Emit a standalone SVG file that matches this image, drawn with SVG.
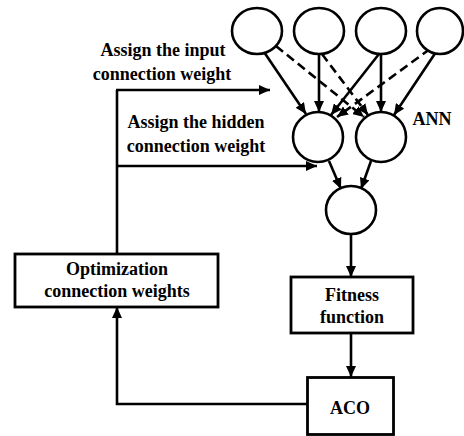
<svg xmlns="http://www.w3.org/2000/svg" width="464" height="436" viewBox="0 0 464 436">
<style>
.nd{fill:#fff;stroke:#000;stroke-width:2.6}
.bx{fill:#fff;stroke:#000;stroke-width:2.8}
.ln{fill:none;stroke:#000;stroke-width:2.6}
.ds{fill:none;stroke:#000;stroke-width:2.6;stroke-dasharray:9 5}
text{font-family:"Liberation Serif","Times New Roman",serif;font-size:18px;font-weight:bold;fill:#000;text-anchor:middle}
</style>
<defs>
<marker id="ah" markerUnits="userSpaceOnUse" markerWidth="12" markerHeight="10" refX="11" refY="5" orient="auto"><path d="M0,0 L11,5 L0,10 z" fill="#000"/></marker>
</defs>
<rect width="464" height="436" fill="#fff"/>
<g id="connectors">
<line class="ln" x1="264" y1="52" x2="306" y2="114" marker-end="url(#ah)"/>
<line class="ln" x1="319" y1="54" x2="319" y2="112" marker-end="url(#ah)"/>
<line class="ln" x1="379" y1="54" x2="331" y2="115" marker-end="url(#ah)"/>
<line class="ln" x1="381" y1="54" x2="381" y2="112" marker-end="url(#ah)"/>
<line class="ln" x1="436" y1="52" x2="394" y2="115" marker-end="url(#ah)"/>
<line class="ds" x1="276" y1="46" x2="364" y2="117" marker-end="url(#ah)"/>
<line class="ds" x1="322" y1="54" x2="368" y2="115" marker-end="url(#ah)"/>
<line class="ds" x1="430" y1="49" x2="337" y2="117" marker-end="url(#ah)"/>
<line class="ln" x1="329" y1="161" x2="341" y2="189" marker-end="url(#ah)"/>
<line class="ln" x1="371" y1="161" x2="361" y2="189" marker-end="url(#ah)"/>
<line class="ln" x1="351" y1="234" x2="351" y2="277" marker-end="url(#ah)"/>
<line class="ln" x1="351" y1="333" x2="351" y2="377" marker-end="url(#ah)"/>
<polyline class="ln" points="307,404 117,404 117,307" marker-end="url(#ah)"/>
<line class="ln" x1="117" y1="254" x2="117" y2="90"/>
<line class="ln" x1="116" y1="90" x2="270" y2="90" marker-end="url(#ah)"/>
<line class="ln" x1="116" y1="166" x2="317" y2="166" marker-end="url(#ah)"/>
</g>
<g id="in1"><ellipse class="nd" cx="257" cy="31" rx="25" ry="23"/></g>
<g id="in2"><ellipse class="nd" cx="319" cy="31" rx="25" ry="23"/></g>
<g id="in3"><ellipse class="nd" cx="381" cy="31" rx="25" ry="23"/></g>
<g id="in4"><ellipse class="nd" cx="440" cy="31" rx="23" ry="23"/></g>
<g id="hid1"><ellipse class="nd" cx="318" cy="137" rx="25" ry="25"/></g>
<g id="hid2"><ellipse class="nd" cx="381" cy="137" rx="25" ry="25"/></g>
<g id="out"><ellipse class="nd" cx="351" cy="210" rx="25" ry="24"/></g>
<g id="ann-label"><text x="432" y="125">ANN</text></g>
<g id="label-input"><text x="163" y="56">Assign the input</text><text x="162" y="80">connection weight</text></g>
<g id="label-hidden"><text x="196" y="128">Assign the hidden</text><text x="196" y="152">connection weight</text></g>
<g id="optimization"><rect class="bx" x="15" y="254" width="203" height="53"/><text x="117" y="275">Optimization</text><text x="117" y="297">connection weights</text></g>
<g id="fitness"><rect class="bx" x="291" y="277" width="122" height="56"/><text x="352" y="301">Fitness</text><text x="352" y="323">function</text></g>
<g id="aco"><rect class="bx" x="307.5" y="377.5" width="86" height="57"/><text x="350" y="414">ACO</text></g>
</svg>
